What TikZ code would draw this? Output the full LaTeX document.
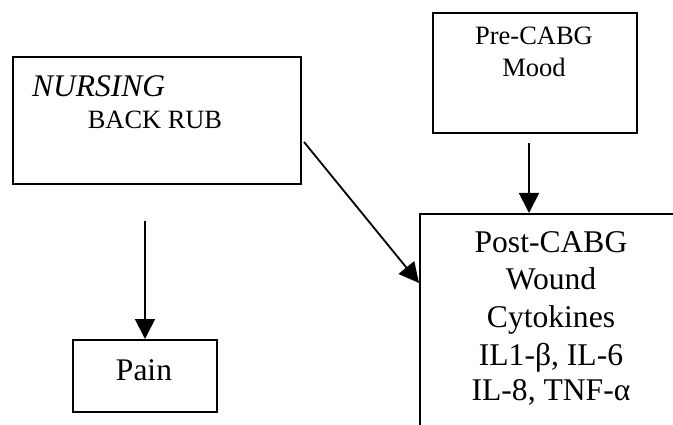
\documentclass[tikz,border=0pt]{standalone}
\usepackage{fontspec}
\setmainfont{Liberation Serif}
\usetikzlibrary{arrows.meta,calc}
\begin{document}
\begin{tikzpicture}[x=1pt,y=-1pt,
  box/.style={draw=black,line width=2pt,rectangle,inner sep=0pt,anchor=north west},
  lbl/.style={inner sep=0pt,anchor=base},
  conn/.style={line width=1.8pt,-{Triangle[length=20pt,width=20pt]}}]
\useasboundingbox (0,0) rectangle (673,425);
\clip (0,0) rectangle (673,425);
% boxes
\node[box,minimum width=288pt,minimum height=127pt] (nurs) at (12,56) {};
\node[box,minimum width=204pt,minimum height=120pt] (pre) at (432,12) {};
\node[box,minimum width=300pt,minimum height=260pt] (post) at (419,213) {};
\node[box,minimum width=144pt,minimum height=72pt] (pain) at (72,339) {};
% texts
\node[inner sep=0pt,anchor=base west,font=\fontsize{31.5}{36}\selectfont\itshape] (t1) at (32,97) {NURSING};
\node[lbl,font=\fontsize{26.4}{30}\selectfont] (t2) at (155,129) {BACK RUB};
\node[lbl,font=\fontsize{26.5}{30}\selectfont] (t3) at (534,45) {Pre-CABG};
\node[lbl,font=\fontsize{26.5}{30}\selectfont] (t4) at (534,77) {Mood};
\node[lbl,font=\fontsize{31.6}{36}\selectfont] (t5) at (551,253) {Post-CABG};
\node[lbl,font=\fontsize{31.6}{36}\selectfont] (t6) at (551,290) {Wound};
\node[lbl,font=\fontsize{31.6}{36}\selectfont] (t7) at (551,327) {Cytokines};
\node[lbl,font=\fontsize{31.6}{36}\selectfont] (t8) at (551,365) {IL1-β, IL-6};
\node[lbl,font=\fontsize{31.6}{36}\selectfont] (t9) at (551,400) {IL-8, TNF-α};
\node[lbl,font=\fontsize{31.5}{36}\selectfont] (t10) at (144,381) {Pain};
% connector ends
\coordinate (preout) at ($(pre.south)+(-6,9)$);
\coordinate (posttop) at (preout |- post.north);
\coordinate (nursout) at ($(nurs.north east)+(2,86)$);
\coordinate (postleft) at ($(post.north west)+(0,70)$);
\coordinate (nursdown) at ($(pain.north |- nurs.south)+(0,36)$);
% connectors
\draw[conn] (preout) -- (posttop);
\draw[conn] (nursout) -- (postleft);
\draw[conn] (nursdown) -- (pain.north);
\end{tikzpicture}
\end{document}
